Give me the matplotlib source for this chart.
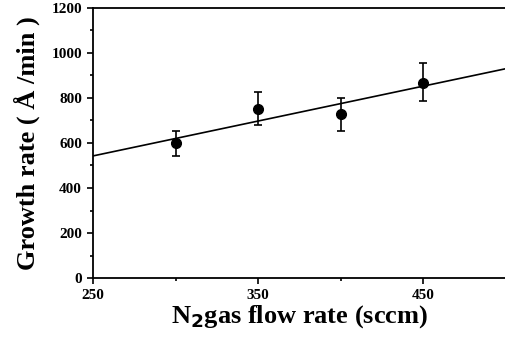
import numpy as np
import matplotlib
matplotlib.use("Agg")
import matplotlib.pyplot as plt
from matplotlib.ticker import MultipleLocator, FixedLocator

# N2 flow rate (sccm) vs growth rate (A/min)
flow = [300, 350, 400, 450]
rate = [600, 750, 730, 865]
err_lo = [60, 70, 75, 80]
err_hi = [55, 75, 70, 90]
x_major = [250, 350, 450]
x_minor = [300, 400]

plt.rcParams['font.family'] = ['Liberation Serif', 'DejaVu Serif']
plt.rcParams['font.weight'] = 'bold'

fig = plt.figure(figsize=(5.06, 3.42), dpi=100)
ax = fig.add_axes([0.184, 0.187, 0.816, 0.79])

ax.errorbar(flow, rate, yerr=[err_lo, err_hi], fmt='o', color='black',
            markersize=7, capsize=3, elinewidth=1.2, capthick=1.2)

# least squares line across the whole axis
k, b = np.polyfit(flow, rate, 1)
xs = np.array([250, 500])
ax.plot(xs, k * xs + b, color='black', lw=1.2)

ax.set_xlim(250, 500)
ax.set_ylim(0, 1200)
ax.xaxis.set_major_locator(FixedLocator(x_major))
ax.xaxis.set_minor_locator(FixedLocator(x_minor))
ax.yaxis.set_major_locator(MultipleLocator(200))
ax.yaxis.set_minor_locator(MultipleLocator(100))
ax.tick_params(which='both', direction='out', width=1.2)
ax.tick_params(which='major', length=4, labelsize=11, pad=4)
ax.tick_params(which='minor', length=2.5)
for lab in ax.get_xticklabels() + ax.get_yticklabels():
    lab.set_fontweight('bold')

ax.spines['right'].set_visible(False)
for s in ['left', 'bottom', 'top']:
    ax.spines[s].set_linewidth(1.3)

ax.set_xlabel(r'N$_\mathbf{2}$gas flow rate (sccm)', fontsize=19, fontweight='bold', labelpad=1)
ax.set_ylabel('Growth rate ( Å /min )', fontsize=19, fontweight='bold', labelpad=8)

fig.savefig('out.png', dpi=100)
